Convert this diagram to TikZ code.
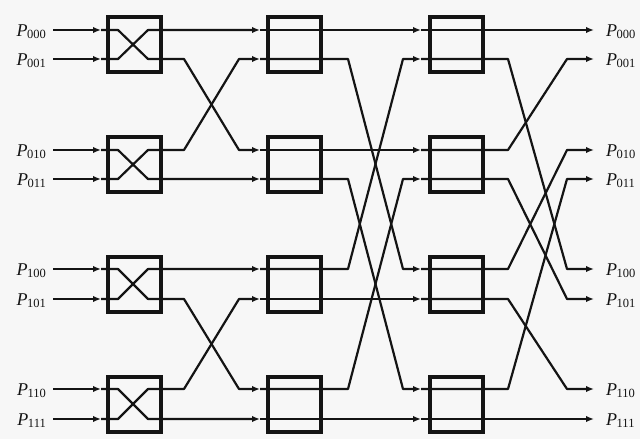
\documentclass[tikz,border=0pt]{standalone}
\usepackage{fontspec}
\setmainfont{Liberation Serif}
\usetikzlibrary{arrows.meta}
\newcommand{\plab}[1]{\textit{P}\kern-0.5pt\raisebox{-2.5pt}{\fontsize{12.5}{12.5}\selectfont #1}}
\begin{document}
\begin{tikzpicture}[x=1pt,y=-1pt,
  ink/.style={color=black!92},
  wire/.style={ink, line width=2.2pt, line join=round},
  arr/.style={wire, -{Latex[length=8pt,width=6.5pt]}},
  swbox/.style={ink, draw, line width=4pt, minimum width=53pt, minimum height=55pt, inner sep=0pt},
  lab/.style={ink, font=\fontsize{18}{18}\selectfont, inner sep=0pt}]
\fill[black!3] (0,0) rectangle (640,439);
\useasboundingbox (0,0) rectangle (640,439);
% row coordinates and ports
\foreach \i/\y in {0/30,1/59,2/150,3/179,4/269,5/299,6/389,7/419}{
  \coordinate (in\i) at (53,\y);
  \coordinate (ta\i) at (101,\y);
  \coordinate (tb\i) at (260,\y);
  \coordinate (tc\i) at (421,\y);
  \coordinate (out\i) at (594,\y);
}
% columns of bends
\coordinate (cA) at (118,0);
\coordinate (cB) at (148,0);
\coordinate (cC) at (184,0);
\coordinate (cD) at (239,0);
\coordinate (cE) at (348,0);
\coordinate (cF) at (403,0);
\coordinate (cG) at (508,0);
\coordinate (cH) at (567,0);
% switch boxes
\foreach \b/\y in {1/44.5,2/164.5,3/284,4/404}{
  \node[swbox] (sa\b) at (134.5,\y) {};
  \node[swbox] (sb\b) at (294.5,\y) {};
  \node[swbox] (sc\b) at (456,\y) {};
}
% labels
\foreach \i/\t in {0/000,1/001,2/010,3/011,4/100,5/101,6/110,7/111}{
  \node[lab, anchor=base east] (l\i) at ([xshift=-7pt,yshift=-6pt]in\i) {\plab{\t}};
  \node[lab, anchor=base west] (r\i) at ([xshift=12pt,yshift=-6pt]out\i) {\plab{\t}};
  \draw[arr] (in\i) -- (ta\i);
}
% stage 1 exchange + first interstage
\foreach \i/\s/\p in {0/1/2,1/0/0,2/3/3,3/2/1,4/5/6,5/4/4,6/7/7,7/6/5}{
  \draw[arr] (ta\i) -- (cA |- ta\i) -- (cB |- ta\s) -- (cC |- ta\s) -- (cD |- tb\p) -- (tb\p);
}
% stage 2 + second interstage
\foreach \j/\q in {0/0,1/4,2/2,3/6,4/1,5/5,6/3,7/7}{
  \draw[arr] (tb\j) -- (cE |- tb\j) -- (cF |- tc\q) -- (tc\q);
}
% stage 3 + output
\foreach \k/\m in {0/0,1/4,2/1,3/5,4/2,5/6,6/3,7/7}{
  \draw[arr] (tc\k) -- (cG |- tc\k) -- (cH |- out\m) -- (out\m);
}
\end{tikzpicture}
\end{document}
